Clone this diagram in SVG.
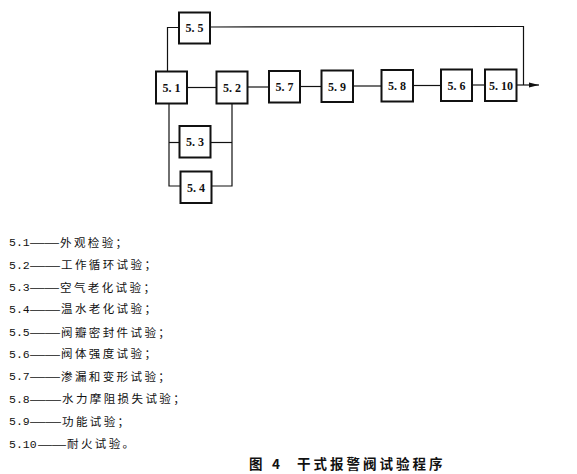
<svg xmlns="http://www.w3.org/2000/svg" width="577" height="474" viewBox="0 0 577 474">
<style>
.box{fill:#fff;stroke:#111;stroke-width:2}
.bl{font-family:"Liberation Serif",serif;font-weight:bold;font-size:12px;fill:#111;text-anchor:middle}
.ln{fill:none;stroke:#111;stroke-width:1.2}
.num{font-family:"Liberation Mono",monospace;font-size:11.5px;fill:#111}
.dash{font-family:"Liberation Sans",sans-serif;font-size:11px;fill:#111}
.cn{font-family:"Noto Sans CJK SC",sans-serif;font-size:11.5px;letter-spacing:2.4px;fill:#111}
.cap{font-family:"Noto Sans CJK SC",sans-serif;font-size:13.5px;font-weight:bold;fill:#111}
</style>
<defs>
<marker id="ah" markerWidth="10" markerHeight="6" refX="10" refY="3" orient="auto" markerUnits="userSpaceOnUse">
<path d="M0,0.5 L10,3 L0,5.5 Z" fill="#111"/>
</marker>
</defs>
<rect width="577" height="474" fill="#fff"/>
<g id="connectors">
<polyline class="ln" points="167.5,71 167.5,27.5 179,27.5"/>
<polyline class="ln" points="210,27 523.5,26.5 523.5,85"/>
<line class="ln" x1="187" y1="87.5" x2="216" y2="87.5"/>
<line class="ln" x1="248" y1="87" x2="269" y2="87"/>
<line class="ln" x1="300" y1="86.5" x2="321" y2="86.5"/>
<line class="ln" x1="353" y1="86" x2="381" y2="86"/>
<line class="ln" x1="413" y1="85.5" x2="441" y2="85.5"/>
<line class="ln" x1="472" y1="85" x2="485" y2="85"/>
<line class="ln" x1="517" y1="85" x2="539" y2="85" marker-end="url(#ah)"/>
<polyline class="ln" points="169,104 169,186 180,186"/>
<line class="ln" x1="169" y1="142.5" x2="179" y2="142.5"/>
<polyline class="ln" points="232,104 232,186 211,186"/>
<line class="ln" x1="211" y1="142.5" x2="232" y2="142.5"/>
</g>
<g id="n55"><rect class="box" x="179" y="12.5" width="31" height="31"/><text class="bl" x="194.5" y="32">5. 5</text></g>
<g id="n51"><rect class="box" x="156" y="71.5" width="31" height="32"/><text class="bl" x="171.5" y="91.5">5. 1</text></g>
<g id="n52"><rect class="box" x="216.5" y="71.5" width="31" height="32"/><text class="bl" x="232" y="91.5">5. 2</text></g>
<g id="n57"><rect class="box" x="269" y="71" width="31" height="31.5"/><text class="bl" x="284.5" y="91">5. 7</text></g>
<g id="n59"><rect class="box" x="321.5" y="70.5" width="31.5" height="31.5"/><text class="bl" x="337" y="90.5">5. 9</text></g>
<g id="n58"><rect class="box" x="381.5" y="70" width="31.5" height="31.5"/><text class="bl" x="397" y="90">5. 8</text></g>
<g id="n56"><rect class="box" x="441" y="69.5" width="31" height="31.5"/><text class="bl" x="456.5" y="89.5">5. 6</text></g>
<g id="n510"><rect class="box" x="485" y="69.5" width="31.5" height="31.5"/><text class="bl" x="501" y="89.5">5. 10</text></g>
<g id="n53"><rect class="box" x="179.5" y="126" width="31" height="31.5"/><text class="bl" x="195" y="146">5. 3</text></g>
<g id="n54"><rect class="box" x="180.5" y="171.5" width="31" height="31.5"/><text class="bl" x="196" y="191.5">5. 4</text></g>
<g id="legend">
<text class="num" x="9" y="246">5.1</text><text class="dash" x="30" y="246" textLength="29" lengthAdjust="spacingAndGlyphs">——</text><text class="cn" x="60" y="246.5">外观检验；</text>
<text class="num" x="9" y="268.5">5.2</text><text class="dash" x="30" y="268.5" textLength="30" lengthAdjust="spacingAndGlyphs">——</text><text class="cn" x="61" y="269">工作循环试验；</text>
<text class="num" x="9" y="291">5.3</text><text class="dash" x="30" y="291" textLength="29" lengthAdjust="spacingAndGlyphs">——</text><text class="cn" x="60" y="291.5">空气老化试验；</text>
<text class="num" x="9" y="312.5">5.4</text><text class="dash" x="30" y="312.5" textLength="30" lengthAdjust="spacingAndGlyphs">——</text><text class="cn" x="61" y="313">温水老化试验；</text>
<text class="num" x="9" y="336">5.5</text><text class="dash" x="30" y="336" textLength="30" lengthAdjust="spacingAndGlyphs">——</text><text class="cn" x="61" y="336.5">阀瓣密封件试验；</text>
<text class="num" x="9" y="357.5">5.6</text><text class="dash" x="30" y="357.5" textLength="30" lengthAdjust="spacingAndGlyphs">——</text><text class="cn" x="61" y="358">阀体强度试验；</text>
<text class="num" x="9" y="380">5.7</text><text class="dash" x="30" y="380" textLength="30" lengthAdjust="spacingAndGlyphs">——</text><text class="cn" x="61" y="380.5">渗漏和变形试验；</text>
<text class="num" x="9" y="402.5">5.8</text><text class="dash" x="30" y="402.5" textLength="31" lengthAdjust="spacingAndGlyphs">——</text><text class="cn" x="62" y="403">水力摩阻损失试验；</text>
<text class="num" x="9" y="425">5.9</text><text class="dash" x="30" y="425" textLength="31" lengthAdjust="spacingAndGlyphs">——</text><text class="cn" x="62" y="425.5">功能试验；</text>
<text class="num" x="9" y="447.5">5.10</text><text class="dash" x="38" y="447.5" textLength="28" lengthAdjust="spacingAndGlyphs">——</text><text class="cn" x="67" y="448">耐火试验。</text>
</g>
<g id="caption">
<text class="cap" x="249" y="469">图</text>
<text class="cap" x="272" y="469">4</text>
<text class="cap" x="297" y="469" style="letter-spacing:3px">干式报警阀试验程序</text>
</g>
</svg>
